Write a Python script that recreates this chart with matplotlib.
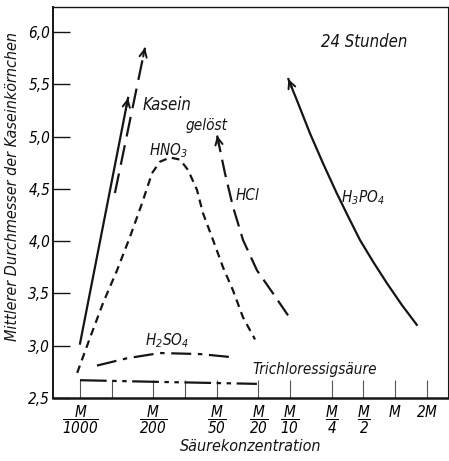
import numpy as np
import matplotlib
matplotlib.use('Agg')
import matplotlib.pyplot as plt
from matplotlib.ticker import NullFormatter, FixedLocator

plt.rcParams['font.family'] = ['DejaVu Sans']
plt.rcParams['font.style'] = 'italic'
plt.rcParams['font.stretch'] = 'condensed'
plt.rcParams['mathtext.fontset'] = 'custom'
MATH_FONT = 'DejaVu Sans:style=italic:stretch=condensed'
plt.rcParams['mathtext.rm'] = MATH_FONT
plt.rcParams['mathtext.it'] = MATH_FONT
plt.rcParams['mathtext.bf'] = MATH_FONT

# Acid concentration (mol/l) against mean casein grain diameter
kasein_solid_x = [0.001, 0.00287]
kasein_solid_y = [3.02, 5.37]

kasein_dash_x = [0.00215, 0.00416]
kasein_dash_y = [4.46, 5.85]

hno3_x = [0.00094, 0.00125, 0.00166, 0.00225, 0.00299, 0.00389, 0.00485,
          0.00578, 0.00720, 0.00896, 0.01069, 0.0130, 0.0148, 0.0185,
          0.0230, 0.0286, 0.0357, 0.0464]
hno3_y = [2.74, 3.08, 3.41, 3.72, 4.04, 4.36, 4.65, 4.76, 4.80, 4.78, 4.68,
          4.49, 4.27, 4.01, 3.75, 3.53, 3.27, 3.06]

hcl_x = [0.0957, 0.0689, 0.0485, 0.0357, 0.0286, 0.0240, 0.0202]
hcl_y = [3.29, 3.50, 3.72, 4.01, 4.33, 4.65, 5.01]

h3po4_x = [1.61, 1.16, 0.834, 0.621, 0.464, 0.360, 0.278, 0.207, 0.155,
           0.116, 0.0964]
h3po4_y = [3.20, 3.39, 3.60, 3.80, 4.01, 4.23, 4.46, 4.74, 5.03, 5.35, 5.55]

h2so4_x = [0.00145, 0.00281, 0.00578, 0.0139, 0.0281]
h2so4_y = [2.81, 2.88, 2.93, 2.92, 2.89]

tca_x = [0.001, 0.005, 0.0484]
tca_y = [2.67, 2.655, 2.635]

tick_conc = [0.001, 0.005, 0.02, 0.05, 0.1, 0.25, 0.5, 1, 2]
tick_labels = [r'$\dfrac{M}{1000}$', r'$\dfrac{M}{200}$', r'$\dfrac{M}{50}$',
               r'$\dfrac{M}{20}$', r'$\dfrac{M}{10}$', r'$\dfrac{M}{4}$',
               r'$\dfrac{M}{2}$', r'$M$', r'$2M$']
minor_conc = [0.002, 0.01]
y_ticks = [2.5, 3.0, 3.5, 4.0, 4.5, 5.0, 5.5, 6.0]
y_labels = ['2,5', '3,0', '3,5', '4,0', '4,5', '5,0', '5,5', '6,0']

fig = plt.figure(figsize=(4.49, 4.61), dpi=100)
ax = fig.add_axes([0.118, 0.1367, 0.880, 0.848])
ax.set_xscale('log')
ax.set_xlim(0.000553, 3.2)
ax.set_ylim(2.5, 6.239)

ink = '#151515'
lw = 1.6


def arrow_to_end(xs, ys, length=9.0):
    """Open arrowhead at the last point, aligned with the last segment."""
    p0 = ax.transData.transform((xs[-2], ys[-2]))
    p1 = ax.transData.transform((xs[-1], ys[-1]))
    d = (p1 - p0) / np.hypot(*(p1 - p0))
    off = -d * length * 72.0 / fig.dpi
    ax.annotate('', xy=(xs[-1], ys[-1]), xytext=(off[0], off[1]),
                textcoords='offset points',
                arrowprops=dict(arrowstyle='->', color=ink, lw=1.4,
                                mutation_scale=13, shrinkA=0, shrinkB=0))


ax.plot(kasein_solid_x, kasein_solid_y, color=ink, lw=lw)
arrow_to_end(kasein_solid_x, kasein_solid_y)

ax.plot(kasein_dash_x, kasein_dash_y, color=ink, lw=lw, dashes=(9, 4))
arrow_to_end(kasein_dash_x, kasein_dash_y)

ax.plot(hno3_x, hno3_y, color=ink, lw=lw, dashes=(3.5, 2.5))

ax.plot(hcl_x, hcl_y, color=ink, lw=lw, dashes=(8, 3.5))
arrow_to_end(hcl_x, hcl_y)

ax.plot(h3po4_x, h3po4_y, color=ink, lw=lw)
arrow_to_end(h3po4_x, h3po4_y)

ax.plot(h2so4_x, h2so4_y, color=ink, lw=lw, dashes=(9, 3, 2, 3))

ax.plot(tca_x, tca_y, color=ink, lw=lw, dashes=(12, 2.5, 2, 2.5, 2, 2.5))

txt = dict(color=ink, fontsize=11, ha='center', va='center')
ax.text(0.00674, 5.30, 'Kasein', **{**txt, 'fontsize': 12})
ax.text(0.0162, 5.11, 'gelöst', **txt)
ax.text(0.00689, 4.87, r'HNO$_3$', **txt)
ax.text(0.0398, 4.44, 'HCl', **txt)
ax.text(0.495, 4.42, r'H$_3$PO$_4$', **txt)
ax.text(0.00674, 3.05, r'H$_2$SO$_4$', **txt)
ax.text(0.173, 2.77, 'Trichloressigsäure', **txt)
ax.text(0.507, 5.90, '24 Stunden', color=ink, fontsize=12, ha='center',
        va='center')

ax.xaxis.set_major_locator(FixedLocator(tick_conc))
ax.xaxis.set_minor_locator(FixedLocator(minor_conc))
ax.xaxis.set_minor_formatter(NullFormatter())
ax.set_xticklabels(tick_labels, fontsize=11)
ax.tick_params(axis='x', which='both', direction='in', length=13, width=0.8,
               color='#555555', pad=4)
ax.set_yticks(y_ticks)
ax.set_yticklabels(y_labels, fontsize=11)
ax.tick_params(axis='y', direction='in', length=12, width=1.0, color=ink, pad=2)

ax.spines['bottom'].set_linewidth(1.8)
ax.spines['left'].set_linewidth(1.4)
ax.spines['top'].set_linewidth(1.0)
ax.spines['right'].set_linewidth(0.8)
for s in ax.spines.values():
    s.set_color(ink)

ax.set_xlabel('Säurekonzentration', fontsize=11.5, color=ink, labelpad=2)
ax.set_ylabel('Mittlerer Durchmesser der Kaseinkörnchen', fontsize=11.5,
              color=ink)
ax.yaxis.set_label_coords(-0.084, 0.54)

fig.savefig('out.png', dpi=100)
